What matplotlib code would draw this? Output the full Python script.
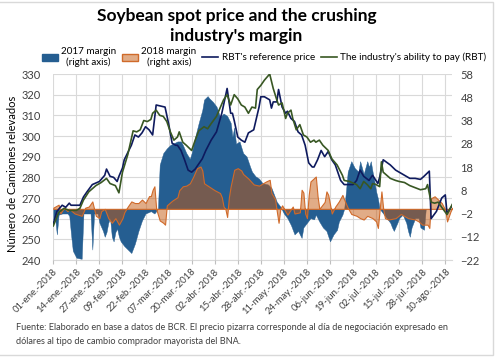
import numpy as np
import matplotlib
matplotlib.use("Agg")
import matplotlib.pyplot as plt
from matplotlib.patches import Patch, Rectangle
from matplotlib.lines import Line2D
from matplotlib.transforms import blended_transform_factory

plt.rcParams['font.family'] = ['Lato', 'DejaVu Sans']

START = np.datetime64('2018-01-01')

# RBT's reference price (left axis) -- days since 01-ene-2018
ref_days = [0, 2, 5, 7, 9, 10, 15, 17, 19, 22, 26, 29, 30, 32, 34, 36, 37, 39, 40, 44,
            46, 48, 50, 52, 54, 56, 58, 63, 65, 67, 69, 70, 72, 74, 76, 78, 80, 84, 86, 89,
            92, 95, 98, 100, 101, 102, 104, 106, 108, 110, 113, 116, 117, 119, 122, 123, 124, 126, 127, 129,
            131, 132, 134, 136, 138, 140, 142, 144, 146, 147, 149, 151, 153, 155, 157, 159, 162, 164, 169, 171,
            173, 175, 178, 180, 183, 184, 186, 190, 193, 195, 198, 201, 204, 207, 209, 212, 213, 216, 219, 221,
            222, 225]
ref_vals = [257.5, 263.5, 266.5, 265.5, 267.5, 266.5, 266.5, 270.5, 273, 276.5, 278, 281, 284, 280.5, 280, 278, 280.5, 284.5, 288.5, 295.5,
            300.5, 299.5, 301.5, 304.5, 303, 300.5, 315, 314, 306, 296.5, 295.5, 295.5, 293, 288.5, 283.5, 282.5, 284, 289, 293, 298,
            302, 311, 323, 311, 311, 307.5, 299.5, 298, 297, 301.5, 303, 314, 319, 319, 317.5, 313.5, 316.5, 316.5, 322.5, 314,
            311, 312, 308.5, 307, 302, 300.5, 295.5, 287, 285, 285, 288.5, 293, 290, 292.5, 288.5, 286, 278.5, 276.5, 276.5, 278.5,
            283.5, 280.5, 278.5, 281, 277, 280, 288.5, 286, 283.5, 282.5, 281, 279.5, 279.5, 279, 280.5, 283, 260, 263.5, 270, 271.5,
            262.5, 266.5]

# The industry's ability to pay (RBT) (left axis)
pay_days = [0, 3, 6, 9, 13, 15, 17, 20, 24, 27, 30, 32, 35, 37, 39, 42, 45, 47, 49, 51,
            53, 55, 56, 58, 60, 62, 64, 66, 68, 70, 71, 73, 75, 78, 80, 82, 85, 87, 89, 92,
            94, 96, 98, 100, 101, 102, 104, 106, 108, 110, 112, 114, 115, 117, 119, 122, 124, 126, 127, 129,
            131, 132, 134, 135, 137, 139, 141, 143, 145, 147, 148, 150, 152, 155, 157, 160, 163, 164, 167, 171,
            173, 175, 177, 179, 180, 182, 184, 185, 186, 190, 193, 195, 198, 201, 204, 207, 210, 211, 213, 215,
            217, 219, 222, 225]
pay_vals = [256.5, 263, 265, 264, 264, 265, 269, 273, 276, 277.5, 279.5, 277, 276, 272.5, 282.5, 291, 302.5, 302, 303, 307.5,
            307, 308, 311, 312.5, 310, 309.5, 307, 302, 298, 299.5, 302, 297, 295.5, 293, 298, 302.5, 304.5, 303.5, 306, 309.5,
            313.5, 317.5, 320, 315, 317.5, 320, 318, 315, 314, 311, 314, 313.5, 322.5, 324.5, 327, 330, 323, 317.5, 315, 316,
            308.5, 311, 312.5, 308.5, 303, 305.5, 300.5, 299.5, 297, 298, 297, 298, 295.5, 293, 289, 286, 281, 278.5, 278, 276.5,
            274.5, 278, 276.5, 274.5, 277, 276.5, 275.5, 287.5, 282.5, 279.5, 278.5, 278, 277.5, 276, 275, 274, 274.5, 276.5, 268, 267.5,
            268, 265.5, 262, 267]

# 2017 margin (right axis)
m17_days = [0, 1, 2, 3, 5, 8, 9, 10, 11, 13, 16, 17, 21, 22, 23, 25, 26, 28, 29, 30,
            31, 32, 33, 34, 35, 36, 37, 38, 40, 42, 44, 46, 48, 50, 52, 55, 57, 59, 60, 62,
            64, 66, 70, 72, 73, 75, 77, 78, 80, 82, 84, 85, 87, 88, 90, 92, 93, 94, 96, 98,
            100, 101, 102, 103, 105, 107, 109, 111, 112, 114, 116, 118, 121, 123, 124, 126, 128, 130, 132, 134,
            136, 138, 140, 141, 143, 145, 147, 148, 150, 152, 154, 156, 158, 160, 161, 163, 164, 165, 166, 168,
            170, 172, 173, 175, 177, 178, 179, 180, 181, 182, 183, 184, 186, 188, 190, 191, 192, 194, 195, 197,
            199, 200, 201, 202, 204, 206, 207, 209, 210]
m17_vals = [-4.5, -4, -11, -2.5, -2, -2, -3, -11, -18, -21, -21.5, -2, -2, -17.5, -2, -2, -6, -9.5, -12, -10,
            -6, -4, -12, -14, -10, -8.5, -12, -14, -16, -17.5, -19, -15, -9.5, -5, -2, -1, -2, 0, 19, 24,
            26, 27.5, 29, 29, 27.5, 24, 21.5, 24, 31, 37, 42.5, 47, 48.5, 47.5, 46, 44, 42, 39.5, 41, 40,
            37, 31, 35, 28, 29, 24, 22.5, 18, 16, 14, 13, 11, 10.5, 9, 7, 3, 1, -2, -4, -7,
            -11, -9.5, -12.5, -8, -6, -4, -4.5, -2.5, -5.5, -8, -9.5, -14, -11, -9, -5.5, -2.5, 0, 7.5, 16, 20.5,
            17.5, 16, 20.5, 15, 20.5, 18, 20.5, 16, 12, 7.5, 4.5, 0, -2, -4, -6, -8, -9.5, -6, -4, -2.5,
            -6, -9.5, -12, -8, -4, -4, -8, -9, 0]

# 2018 margin (right axis)
m18_days = [0, 3, 4, 6, 8, 9, 12, 14, 16, 18, 20, 22, 23, 24, 26, 27, 29, 31, 33, 35,
            37, 39, 40, 42, 44, 46, 48, 50, 52, 54, 55, 56, 57, 58, 59, 60, 62, 63, 64, 67,
            70, 71, 73, 75, 77, 79, 81, 83, 84, 85, 87, 89, 91, 94, 95, 96, 97, 98, 99, 100,
            102, 104, 106, 107, 110, 113, 116, 120, 122, 123, 125, 126, 127, 128, 129, 132, 135, 136, 139, 140,
            141, 142, 143, 144, 145, 148, 149, 150, 153, 154, 155, 157, 159, 161, 163, 164, 166, 168, 171, 173,
            175, 177, 180, 182, 183, 185, 186, 187, 189, 193, 196, 200, 204, 206, 208, 211, 212, 213, 215, 219,
            221, 222, 224, 225]
m18_vals = [0.5, 1.8, -2, 0.5, -1, 0, -2, -2.5, -3, 0.5, 1, 3.2, 0, -3, -4, -1, 0, -4, -6, -4,
            -6.8, -4, -1.5, 1, 3.2, 2.5, 2.5, 4, 2.5, 5.5, 5.5, 8.2, 9.7, 0, -2.5, -5, -6, -6.8, 1.5, 3.5,
            5, 8, 9.7, 10, 11, 14, 17.5, 18.2, 16.5, 11, 10, 9, 8, 6.8, 5, 1, 0, -3.5, 5, 9.7,
            16.8, 17.5, 16.5, 15, 13, 10.5, 10, 11.8, 12.5, 6.8, 4.2, -1, -6, 0, 1.5, -2.5, 1, -2, -1.5, 8.2,
            7, -2, -4, 6, 11.8, 13.9, 5.4, 0, 3, 7.5, 6, -2, 1, 3.2, 6, 4, 0.5, -2.2, -3, -4,
            -4.6, -3, -4, -5.4, -8.2, 7.5, 0, -4, -4.6, -4, -2.2, -4, -4.6, -5.4, -6.8, -6.8, -8.2, 4.6, 5.4, 2.5,
            -0.5, -5.4, -1, 0.5]

tick_days = [0, 13, 26, 39, 52, 65, 78, 91, 104, 117, 130, 143, 156, 169, 182, 195, 208, 221]
tick_labels = ["01-ene.-2018", "14-ene.-2018", "27-ene.-2018", "09-feb.-2018", "22-feb.-2018",
               "07-mar.-2018", "20-mar.-2018", "02-abr.-2018", "15-abr.-2018", "28-abr.-2018",
               "11-may.-2018", "24-may.-2018", "06-jun.-2018", "19-jun.-2018", "02-jul.-2018",
               "15-jul.-2018", "28-jul.-2018", "10-ago.-2018"]
left_ticks = [240, 250, 260, 270, 280, 290, 300, 310, 320, 330]
right_ticks = [-22, -12, -2, 8, 18, 28, 38, 48, 58]


def to_dates(days):
    return START + np.array(days, dtype='timedelta64[D]')


BLUE = '#255E91'
ORANGE_FILL = (0.773, 0.353, 0.067, 0.5)
ORANGE_EDGE = '#D06A2A'
NAVY = '#0E1A5E'
GREEN = '#385723'
GRID = '#D9D9D9'
TXT = '#404040'

fig = plt.figure(figsize=(5.0, 3.57), dpi=100)
ax_line = fig.add_axes([0.1066, 0.2717, 0.7974, 0.521])
ax_area = ax_line.twinx()
ax_area.set_zorder(1)
ax_line.set_zorder(2)
ax_line.patch.set_visible(False)

# areas (right axis)
ax_area.fill_between(to_dates(m17_days), 0, m17_vals, facecolor=BLUE, edgecolor=BLUE, lw=0.3, zorder=2)
ax_area.fill_between(to_dates(m18_days), 0, m18_vals, facecolor=ORANGE_FILL,
                     edgecolor=ORANGE_EDGE, lw=0.8, zorder=3)

# lines (left axis)
ax_line.plot(to_dates(ref_days), ref_vals, color=NAVY, lw=1.2, zorder=3)
ax_line.plot(to_dates(pay_days), pay_vals, color=GREEN, lw=1.2, zorder=4)

# limits
xmax = START + np.timedelta64(int(224.8 * 24), 'h')
ax_line.set_xlim(START, xmax)
ax_line.set_ylim(240, 330)
ax_area.set_ylim(-22, 58)

# horizontal gridlines at left ticks, drawn behind the areas
tr = blended_transform_factory(ax_area.transAxes, ax_line.transData)
for v in left_ticks:
    ax_area.plot([0, 1], [v, v], transform=tr, color=GRID, lw=0.8, zorder=0.5)
ax_area.set_xlim(START, xmax)
ax_area.set_ylim(-22, 58)

# x ticks
tick_dates = to_dates(tick_days)
ax_line.set_xticks(tick_dates)
ax_line.set_xticklabels(tick_labels, rotation=45, ha='right', rotation_mode='anchor',
                        fontsize=6.9, color=TXT)
ax_line.tick_params(axis='x', length=3, color='#BFBFBF', pad=2)
for d in tick_dates:
    ax_area.axvline(d, color=GRID, lw=0.8, zorder=0.4)

ax_line.set_yticks(left_ticks)
ax_line.tick_params(axis='y', length=0, labelsize=8, labelcolor=TXT, pad=9)
ax_area.set_yticks(right_ticks)
ax_area.tick_params(axis='y', length=0, labelsize=8, labelcolor=TXT, pad=6)

for a in (ax_line, ax_area):
    for s in a.spines.values():
        s.set_visible(False)
ax_area.spines['bottom'].set_visible(True)
ax_area.spines['bottom'].set_color(GRID)

# title
fig.text(0.473, 1 - 16 / 357, "Soybean spot price and the crushing", ha='center', va='center',
         fontsize=12.5, fontweight='bold', color='#000000')
fig.text(0.473, 1 - 36 / 357, "industry's margin", ha='center', va='center',
         fontsize=12.5, fontweight='bold', color='#000000')

# legend
handles = [Patch(facecolor=BLUE, edgecolor=BLUE),
           Patch(facecolor=ORANGE_FILL, edgecolor=ORANGE_EDGE),
           Line2D([], [], color=NAVY, lw=1.2),
           Line2D([], [], color=GREEN, lw=1.2)]
labels = ["2017 margin\n(right axis)", "2018 margin\n(right axis)",
          "RBT's reference price", "The industry's ability to pay (RBT)"]
leg = fig.legend(handles, labels, loc='center', bbox_to_anchor=(0.528, 1 - 57 / 357), ncol=4,
                 frameon=False, fontsize=7.1, handlelength=1.6, handleheight=0.7,
                 columnspacing=0.6, handletextpad=0.35, borderpad=0)
for t in leg.get_texts():
    t.set_color('#000000')
    t.set_multialignment('center')

# y label
fig.text(0.026, 1 - 174 / 357, "Número de Camiones relevados", rotation=90, ha='center', va='center',
         fontsize=8, color='#000000')

# footer
fig.text(16 / 500, 1 - 328 / 357,
         "Fuente: Elaborado en base a datos de BCR. El precio pizarra corresponde al día de negociación expresado en",
         ha='left', va='center', fontsize=6.6, color=TXT)
fig.text(16 / 500, 1 - 341 / 357, "dólares al tipo de cambio comprador mayorista del BNA.",
         ha='left', va='center', fontsize=6.6, color=TXT)

# chart border
fig.patches.append(Rectangle((-0.01, 0.006), 0.996, 0.988, transform=fig.transFigure,
                             fill=False, edgecolor=GRID, lw=1))

fig.savefig('out.png', dpi=100)
